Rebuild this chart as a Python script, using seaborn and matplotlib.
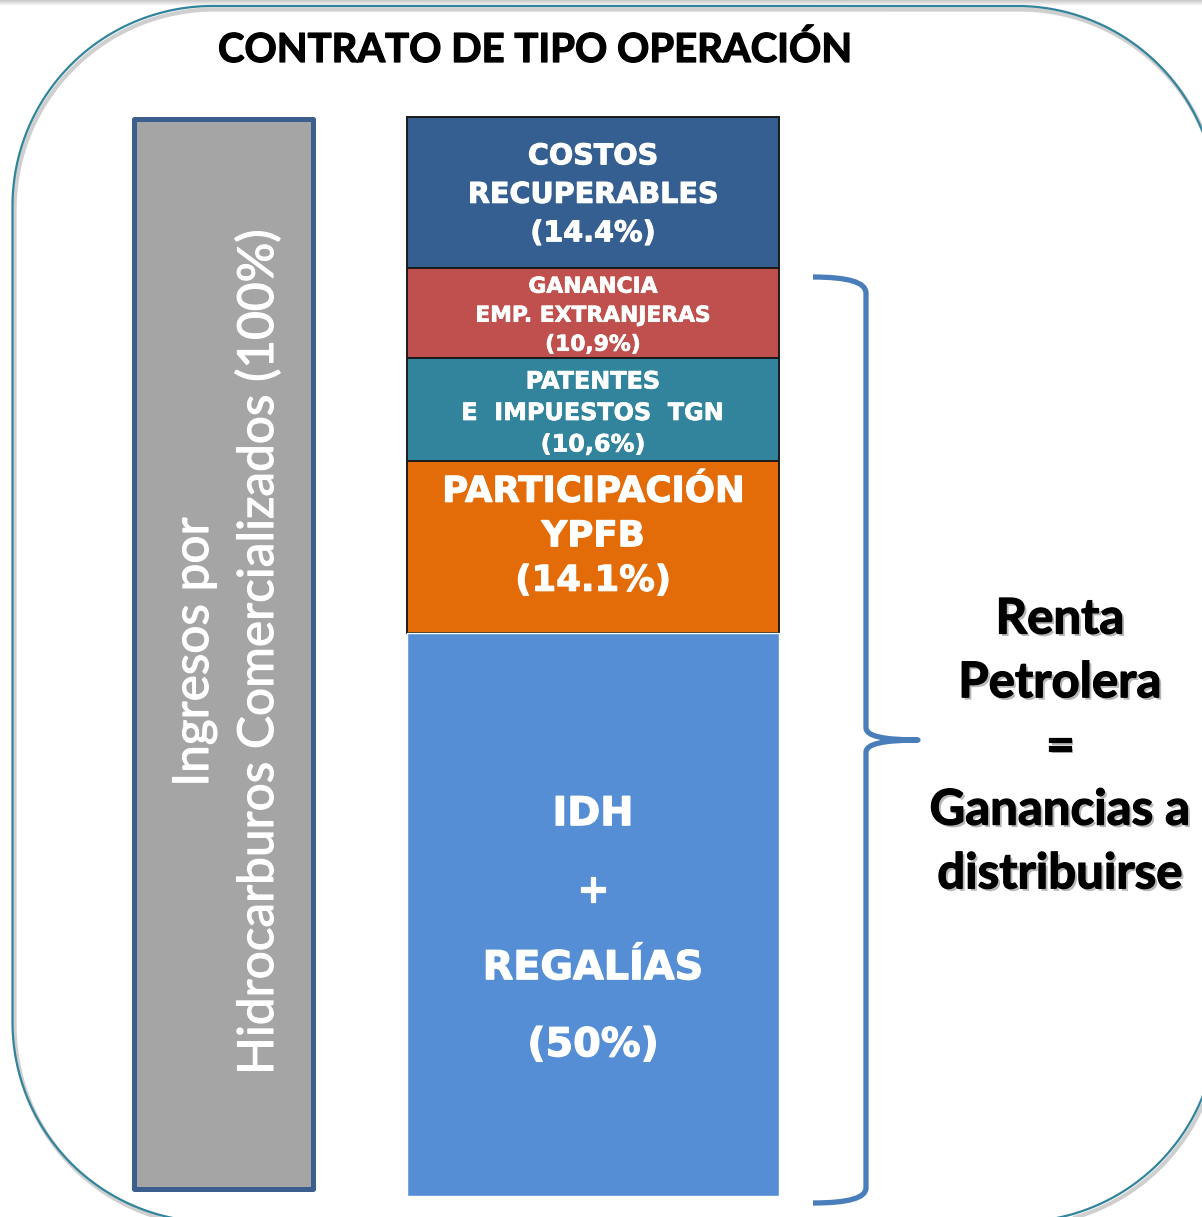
import numpy as np
import pandas as pd
import seaborn as sns
import matplotlib
matplotlib.use("Agg")
import matplotlib.pyplot as plt
from matplotlib.patches import PathPatch
from matplotlib.path import Path
from matplotlib.transforms import ScaledTranslation
import matplotlib.patheffects as pe

# ---------------- data ----------------
title_text = "CONTRATO DE TIPO OPERACIÓN"
total_label = ["Ingresos por", "Hidrocarburos Comercializados (100%)"]
total_value = [100.0]

segment_names = [
    ["COSTOS", "RECUPERABLES"],
    ["GANANCIA", "EMP. EXTRANJERAS"],
    ["PATENTES", "E  IMPUESTOS  TGN"],
    ["PARTICIPACIÓN", "YPFB"],
    ["IDH", "+", "REGALÍAS"],
]
segment_pct_labels = ["(14.4%)", "(10,9%)", "(10,6%)", "(14.1%)", "(50%)"]
# share of the column height as drawn in the picture (percent of column)
segment_drawn_share = [14.0, 8.3, 9.6, 15.9, 52.2]
renta_lines = ["Renta", "Petrolera", "=", "Ganancias a", "distribuirse"]

# ---------------- styles ----------------
seg_colors = ["#365F91", "#C0504D", "#31849B", "#E36C09", "#558ED5"]
seg_edges = ["#1a1a1a", "#1a1a1a", "#1a1a1a", "#1a1a1a", "white"]
seg_edge_lw = [1.4, 1.4, 1.4, 1.4, 1.0]
seg_fontsize = [20.6, 15.7, 17.2, 25.6, 28.6]
seg_line_px = [38.5, 29.0, 31.5, 44.5, 77.0]
seg_shift_px = [0.0, 1.0, 2.0, -13.5, 12.0]
seg_stroke = [0.7, 0.5, 0.5, 0.8, 0.9]

W, H = 1202, 1217
DPI = 100

sns.set_theme(style="white")
plt.rcParams["font.family"] = ["DejaVu Sans"]

fig = plt.figure(figsize=(W / DPI, H / DPI), dpi=DPI)
fig.patch.set_facecolor("white")


def px_rect(l, t, r, b):
    return [l / W, 1 - b / H, (r - l) / W, (b - t) / H]


def rounded_rect_path(x0, y0, x1, y1, r, n=60):
    pts = []
    corners = [((x0 + r, y0 + r), np.pi, 1.5 * np.pi),
               ((x1 - r, y0 + r), 1.5 * np.pi, 2 * np.pi),
               ((x1 - r, y1 - r), 0.0, 0.5 * np.pi),
               ((x0 + r, y1 - r), 0.5 * np.pi, np.pi)]
    for (cx, cy), a0, a1 in corners:
        a = np.linspace(a0, a1, n)
        pts.extend(zip(cx + r * np.cos(a), cy + r * np.sin(a)))
    pts.append(pts[0])
    return Path(np.array(pts))


# ---------- background axes ----------
ax_bg = fig.add_axes([0, 0, 1, 1], zorder=0)
grad = np.linspace(0.78, 1.0, 50).reshape(-1, 1)
ax_bg.imshow(grad, cmap="gray", vmin=0, vmax=1, extent=(0, W, 6, 0), aspect="auto")
ax_bg.set_xlim(0, W)
ax_bg.set_ylim(H, 0)
ax_bg.axis("off")
frame = PathPatch(rounded_rect_path(12.5, 6, 1217, 1222, 200),
                  facecolor="none", edgecolor="#31849B", linewidth=1.6,
                  path_effects=[pe.SimpleLineShadow(offset=(1.5, -2.5), shadow_color="#888888",
                                                    alpha=0.4, linewidth=3.0),
                                pe.Normal()])
ax_bg.add_patch(frame)

# ---------- gray total bar ----------
ax_g = fig.add_axes(px_rect(133.5, 118.5, 312.5, 1188.5), zorder=1)
ax_g.patch.set_alpha(0)
df_total = pd.DataFrame({"cat": ["total"], "value": total_value})
sns.barplot(data=df_total, x="cat", y="value", color="#A5A5A5", saturation=1,
            edgecolor="#3A5F8E", linewidth=3.6, width=1.0, ax=ax_g)
for p in ax_g.patches:
    p.set_clip_on(False)
    p.set_joinstyle("round")
ax_g.set_xlim(-0.5, 0.5)
ax_g.set_ylim(100, 0)
ax_g.axis("off")

# ---------- stacked column ----------
ax_s = fig.add_axes(px_rect(407, 117, 779, 1196), zorder=1)
ax_s.patch.set_alpha(0)
starts = np.concatenate([[0], np.cumsum(segment_drawn_share)[:-1]])
for i, share in enumerate(segment_drawn_share):
    df_seg = pd.DataFrame({"cat": ["col"], "value": [share]})
    sns.barplot(data=df_seg, x="cat", y="value", bottom=starts[i], color=seg_colors[i],
                saturation=1, edgecolor=seg_edges[i], linewidth=seg_edge_lw[i],
                width=1.0, ax=ax_s)
for p in ax_s.patches:
    p.set_clip_on(False)
ax_s.set_xlim(-0.5, 0.5)
ax_s.set_ylim(100, 0)
ax_s.axis("off")

for i, share in enumerate(segment_drawn_share):
    lines = segment_names[i] + [segment_pct_labels[i]]
    n = len(lines)
    fs = seg_fontsize[i]
    size_px = fs * DPI / 72.0
    center = starts[i] + share / 2.0
    for j, line in enumerate(lines):
        off_px = seg_shift_px[i] + (j - (n - 1) / 2.0) * seg_line_px[i] + 0.36 * size_px
        tr = ax_s.transData + ScaledTranslation(0, -off_px / DPI, fig.dpi_scale_trans)
        ax_s.text(0, center, line, transform=tr, ha="center", va="baseline",
                  color="white", fontsize=fs, fontweight="bold",
                  family=["DejaVu Sans"], zorder=5,
                  path_effects=[pe.withStroke(linewidth=seg_stroke[i], foreground="white")])

# ---------- overlay axes: title, labels, brace ----------
ax_o = fig.add_axes([0, 0, 1, 1], zorder=3)
ax_o.set_xlim(0, W)
ax_o.set_ylim(H, 0)
ax_o.patch.set_alpha(0)
ax_o.axis("off")

fig.canvas.draw()
renderer = fig.canvas.get_renderer()


def fit_width(t, target_px, vertical=False):
    ext = t.get_window_extent(renderer)
    cur = ext.height if vertical else ext.width
    t.set_fontsize(t.get_fontsize() * target_px / cur)


t_title = ax_o.text(535, 62, title_text, ha="center", va="baseline", fontsize=30,
                    fontweight="bold", color="black", family=["Lato", "DejaVu Sans"],
                    path_effects=[pe.withStroke(linewidth=0.9, foreground="black")])
fit_width(t_title, 634)

v_stroke = [pe.withStroke(linewidth=0.8, foreground="white")]
t_v1 = ax_o.text(208, 652, total_label[0], rotation=90, rotation_mode="anchor",
                 ha="center", va="baseline", fontsize=32, color="white",
                 family=["Lato", "DejaVu Sans"], path_effects=v_stroke)
t_v2 = ax_o.text(273, 652, total_label[1], rotation=90, rotation_mode="anchor",
                 ha="center", va="baseline", fontsize=32, color="white",
                 family=["Lato", "DejaVu Sans"], path_effects=v_stroke)
fit_width(t_v2, 847, vertical=True)
t_v1.set_fontsize(t_v2.get_fontsize())

renta_texts = []
shadow = [pe.SimplePatchShadow(offset=(1.8, -1.8), shadow_rgbFace="#888888", alpha=0.6),
          pe.withStroke(linewidth=0.9, foreground="black")]
for k, line in enumerate(renta_lines):
    t = ax_o.text(1060, 633.5 + k * 63.7, line, ha="center", va="baseline",
                  fontsize=32, fontweight="bold", color="black",
                  family=["Lato", "DejaVu Sans"], path_effects=shadow)
    renta_texts.append(t)
fit_width(renta_texts[3], 261)
for t in renta_texts:
    t.set_fontsize(renta_texts[3].get_fontsize())

# curly brace
verts = [(813, 277), (866, 277), (866, 293),
         (866, 728),
         (866, 740), (918, 740),
         (866, 740), (866, 752),
         (866, 1188),
         (866, 1203), (813, 1203)]
codes = [Path.MOVETO, Path.CURVE3, Path.CURVE3,
         Path.LINETO,
         Path.CURVE3, Path.CURVE3,
         Path.CURVE3, Path.CURVE3,
         Path.LINETO,
         Path.CURVE3, Path.CURVE3]
brace = PathPatch(Path(verts, codes), facecolor="none", edgecolor="#4A7EBB",
                  linewidth=3.8, capstyle="butt", joinstyle="round")
ax_o.add_patch(brace)

fig.savefig("out.png", dpi=DPI, facecolor="white")
